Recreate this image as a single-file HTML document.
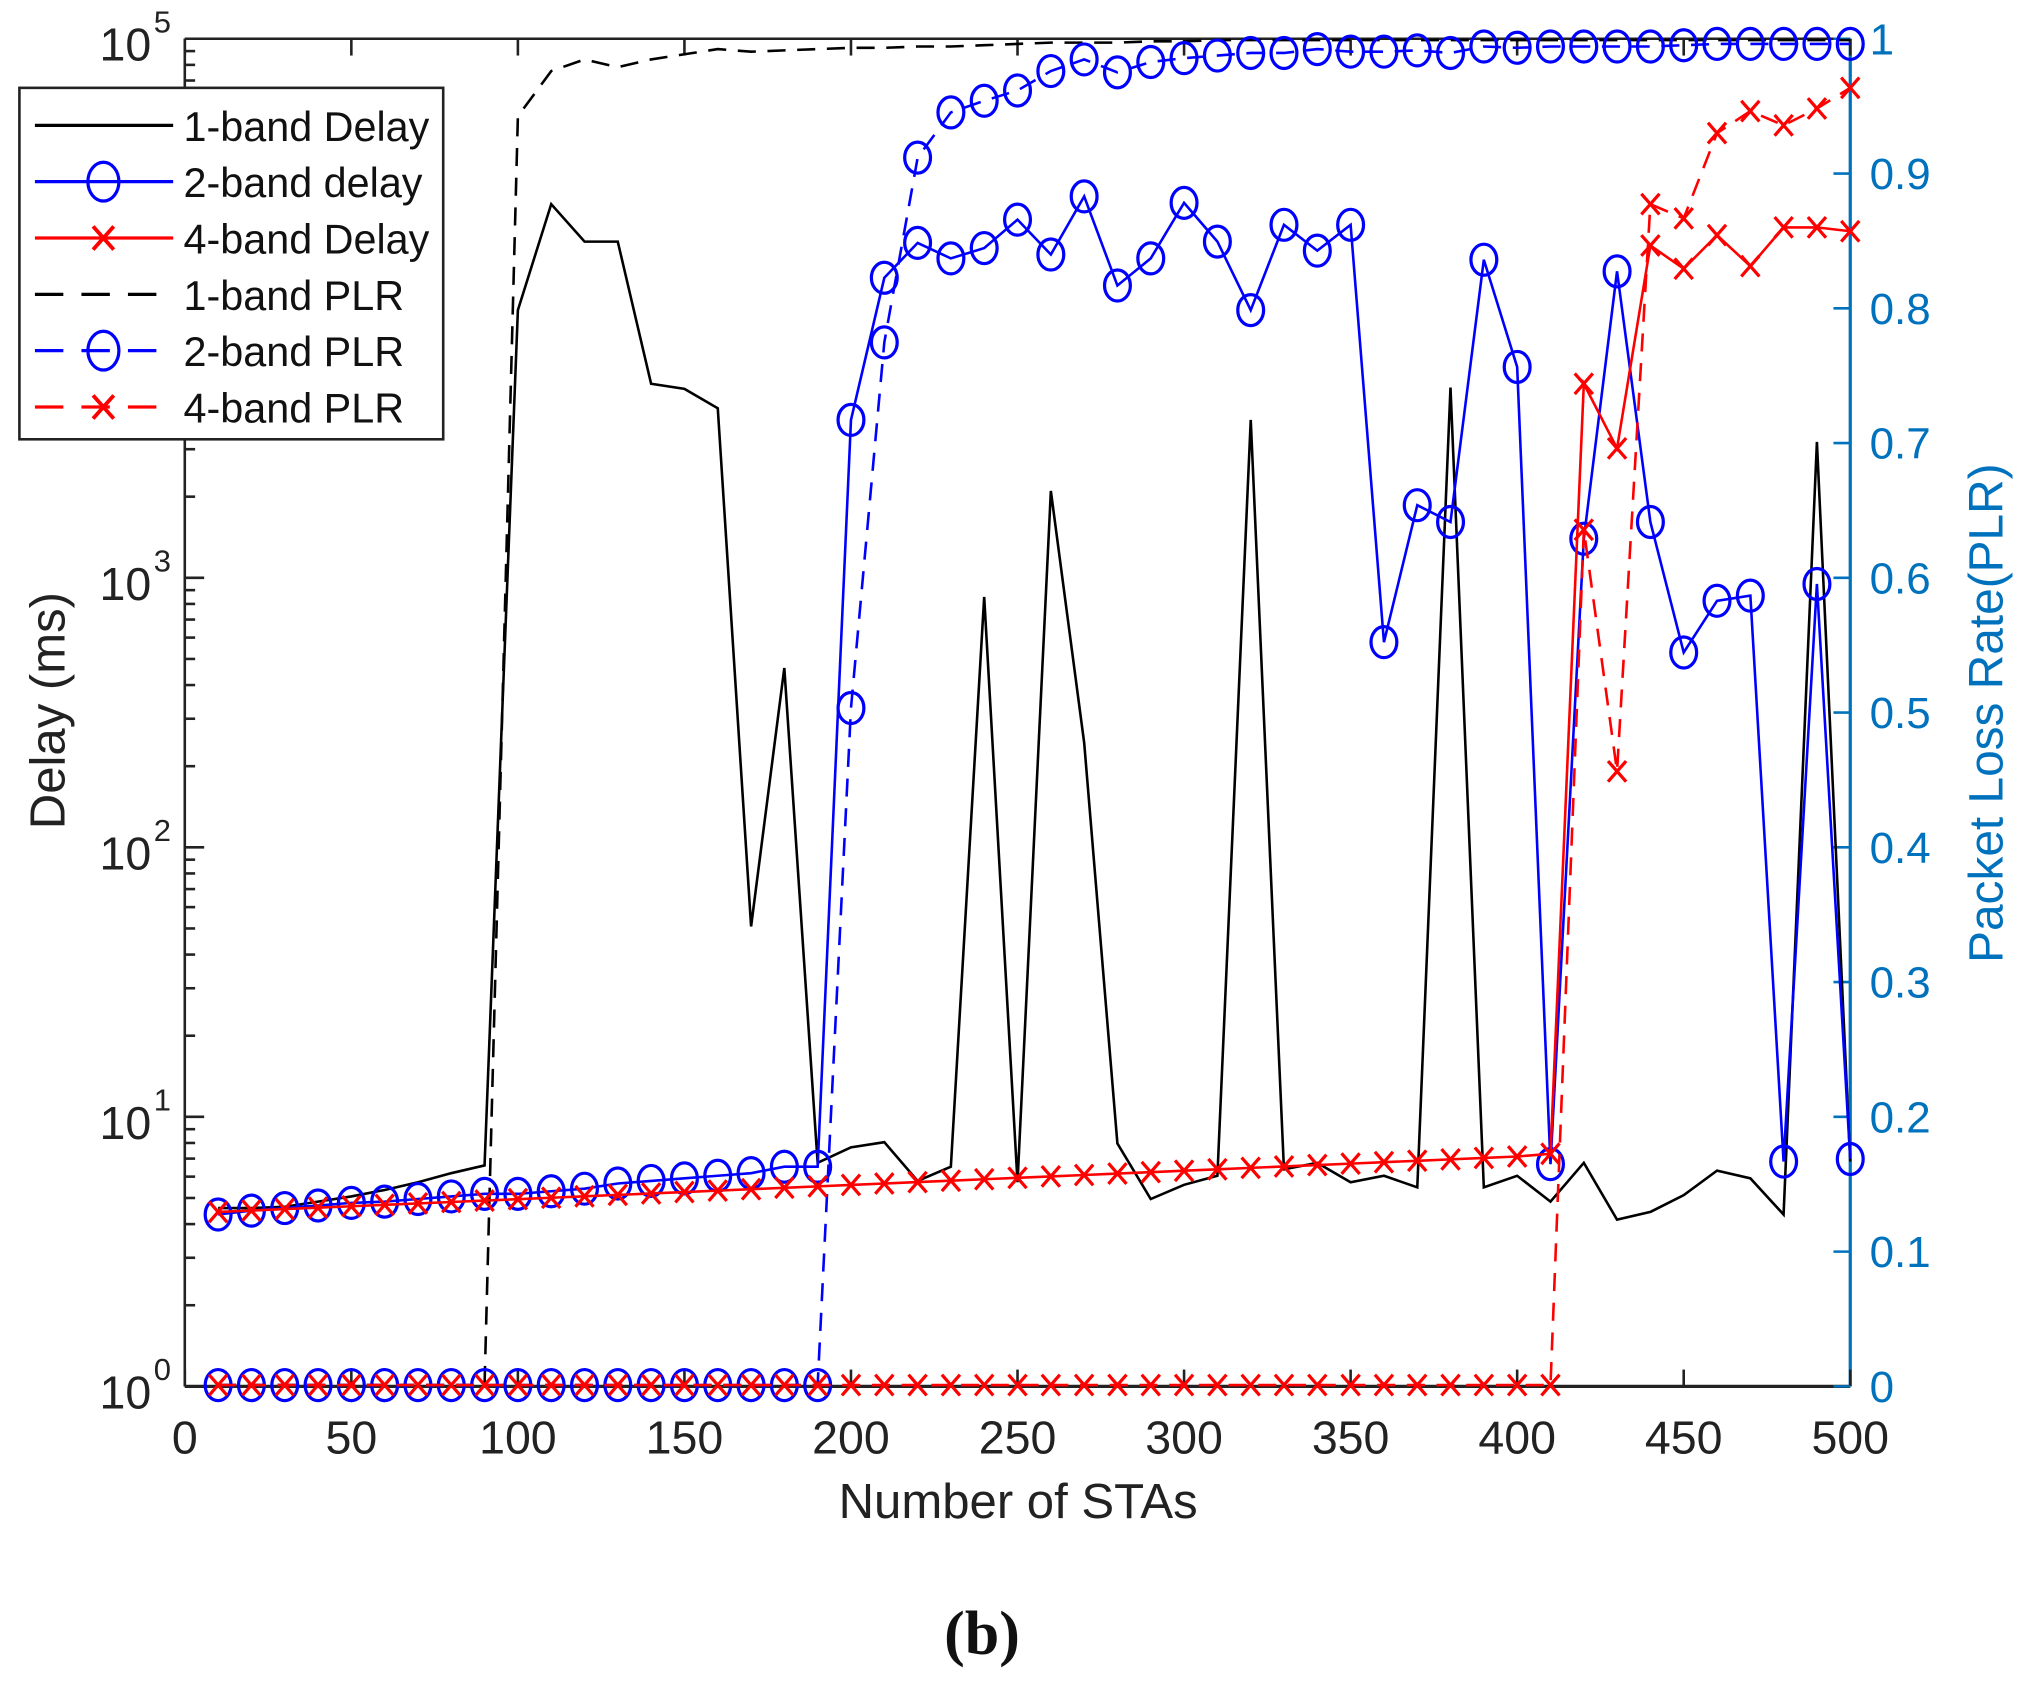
<!DOCTYPE html>
<html><head><meta charset="utf-8"><style>
html,body{margin:0;padding:0;background:#fff}
svg{display:block}
text{font-family:"Liberation Sans",sans-serif}
</style></head><body>
<svg id="s" xmlns="http://www.w3.org/2000/svg" width="2026" height="1690" viewBox="0 0 1568 1308"></svg>
<script>
const S=document.getElementById('s');let h='';
const X=v=>143+v*1289/500;
const B=1073;
const bd=[935,935,934,930,926,921,915,908,902,240,158,187,187,297,301,316,717,517,900,888,884,914,903,462,915,380,575,885,928,917,910,325,905,900,915,910,919,300,919,910,930,900,944,938,925,906,912,940,342,899];
const b2=[940,937,935,933,931,930,928,926,924,924,922,920,916,914,912,910,908,903,903,325,215,188,200,192,170,197,152,221,200,157,187,240,174,194,174,497,391,404,201,284,901,417,210,404,505,465,461,899,452,897];
const p2=[];for(let i=0;i<19;i++)p2.push(1072);p2.push(548,265,122,87,78,70,55,46,56,48,45,43,41,41,38,40,40,39,41,36,37,36,36,36,36,35,34,34,34,34,34);
const rd=[];for(let i=0;i<41;i++)rd.push(938-(i)*1.1);rd[40]=893;rd.push(297,347,190,208,182,206,176,176,179);
const rp=[];for(let i=0;i<41;i++)rp.push(1072);rp.push(410,597,158,169,103,86,97,84,68);
const bp=[1072,1072,1072,1072,1072,1072,1072,1072,1072,90,55,46,52,46,42,38,40,39,38,37,37,36,36,35,34,33,33,33,32,32,31,31,31,31,31,31,31,31,31,31,31,31,31,31,31,31,31,31,31,31];
function pts(a){return a.map((y,i)=>X((i+1)*10).toFixed(1)+','+y).join(' ')}
function line(a,c,dash){h+=`<polyline points="${pts(a)}" fill="none" stroke="${c}" stroke-width="2"${dash?' stroke-dasharray="14,9"':''}/>`}
function circ(a){a.forEach((y,i)=>{h+=`<ellipse cx="${X((i+1)*10)}" cy="${y}" rx="10" ry="12" fill="none" stroke="#00f" stroke-width="2.5"/>`})}
function cross(a){a.forEach((y,i)=>{const x=X((i+1)*10);h+=`<path d="M${x-7} ${y-8}L${x+7} ${y+8}M${x-7} ${y+8}L${x+7} ${y-8}" stroke="#f00" stroke-width="2.5"/>`})}
h+=`<line x1="143" y1="30" x2="1432" y2="30" stroke="#222" stroke-width="2"/>`;
h+=`<line x1="143" y1="1073" x2="1432" y2="1073" stroke="#222" stroke-width="2.5"/>`;
h+=`<line x1="143" y1="30" x2="143" y2="1073" stroke="#222" stroke-width="2"/>`;
h+=`<line x1="1432" y1="30" x2="1432" y2="1073" stroke="#0072BD" stroke-width="2.5"/>`;
for(let v=0;v<=500;v+=50){const x=X(v);h+=`<line x1="${x}" y1="1073" x2="${x}" y2="1060" stroke="#222" stroke-width="2"/><line x1="${x}" y1="30" x2="${x}" y2="43" stroke="#222" stroke-width="2"/>`;
h+=`<text x="${x}" y="1125" font-size="36" text-anchor="middle" fill="#222">${v}</text>`}
const D=208.6;
for(let d=0;d<=5;d++){const y=B-d*D;h+=`<line x1="143" y1="${y}" x2="158" y2="${y}" stroke="#222" stroke-width="2"/>`;
h+=`<text x="117" y="${y+17}" font-size="36" text-anchor="end" fill="#222">10</text><text x="119" y="${y-5}" font-size="24" fill="#222">${d}</text>`;
if(d<5)for(let m=2;m<10;m++){const yy=y-Math.log10(m)*D;h+=`<line x1="143" y1="${yy}" x2="151" y2="${yy}" stroke="#222" stroke-width="2"/>`}}
for(let k=0;k<=10;k++){const y=B-k*104.3;h+=`<line x1="1432" y1="${y}" x2="1419" y2="${y}" stroke="#0072BD" stroke-width="2"/>`;
h+=`<text x="1447" y="${y+12}" font-size="34" fill="#0072BD">${k==0?'0':k==10?'1':'0.'+k}</text>`}
h+=`<text x="788" y="1175" font-size="38" text-anchor="middle" fill="#222">Number of STAs</text>`;
h+=`<text transform="translate(50,550) rotate(-90)" font-size="38" text-anchor="middle" fill="#222">Delay (ms)</text>`;
h+=`<text transform="translate(1550,552) rotate(-90)" font-size="37" text-anchor="middle" fill="#0072BD">Packet Loss Rate(PLR)</text>`;
h+=`<text x="760" y="1280" font-size="48" font-weight="bold" text-anchor="middle" style="font-family:'Liberation Serif',serif" fill="#111">(b)</text>`;
line(bp,'#000',true);
line(bd,'#000',false);
line(p2,'#00f',true);circ(p2);
line(b2,'#00f',false);circ(b2);
line(rp,'#f00',true);cross(rp);
line(rd,'#f00',false);cross(rd);
h+=`<rect x="15" y="68" width="328" height="272" fill="#fff" stroke="#222" stroke-width="2"/>`;
const L=[['1-band Delay','#000',0,0],['2-band delay','#00f',0,1],['4-band Delay','#f00',0,2],['1-band PLR','#000',1,0],['2-band PLR','#00f',1,1],['4-band PLR','#f00',1,2]];
L.forEach((e,i)=>{const y=97+i*43.6;h+=`<line x1="27" y1="${y}" x2="134" y2="${y}" stroke="${e[1]}" stroke-width="2.5"${e[2]?' stroke-dasharray="22,14"':''}/>`;
if(e[3]==1)h+=`<ellipse cx="80" cy="${y}" rx="12" ry="15" fill="none" stroke="#00f" stroke-width="2.5"/>`;
if(e[3]==2)h+=`<path d="M72 ${y-9}L88 ${y+9}M72 ${y+9}L88 ${y-9}" stroke="#f00" stroke-width="3"/>`;
h+=`<text x="142" y="${y+12}" font-size="32" fill="#111">${e[0]}</text>`});
S.innerHTML=h;
</script>
</body></html>
